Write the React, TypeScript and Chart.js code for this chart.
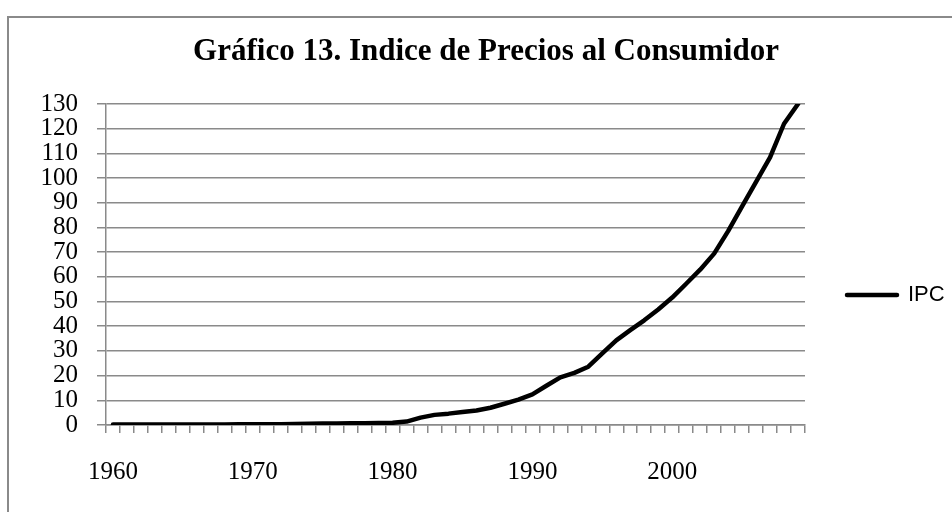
import React, { useEffect, useRef } from 'react';
import { Chart, registerables } from 'chart.js';

Chart.register(...registerables);

const chartTitle = 'Gráfico 13. Indice de Precios al Consumidor';
const seriesName = 'IPC';

const years = [
  '1960', '1961', '1962', '1963', '1964', '1965', '1966', '1967', '1968', '1969',
  '1970', '1971', '1972', '1973', '1974', '1975', '1976', '1977', '1978', '1979',
  '1980', '1981', '1982', '1983', '1984', '1985', '1986', '1987', '1988', '1989',
  '1990', '1991', '1992', '1993', '1994', '1995', '1996', '1997', '1998', '1999',
  '2000', '2001', '2002', '2003', '2004', '2005', '2006', '2007', '2008', '2009',
];

const ipc = [
  0.2, 0.2, 0.2, 0.2, 0.2, 0.2, 0.2, 0.2, 0.2, 0.3,
  0.3, 0.3, 0.3, 0.4, 0.5, 0.6, 0.6, 0.7, 0.7, 0.8,
  0.9, 1.4, 3.0, 4.1, 4.6, 5.3, 5.9, 7.0, 8.6, 10.3,
  12.4, 15.9, 19.3, 21.1, 23.6, 29.0, 34.3, 38.4, 42.4, 46.8,
  51.6, 57.2, 62.9, 69.4, 78.5, 88.5, 98.5, 108.4, 122.0, 130.0,
];

const labeledYears = ['1960', '1970', '1980', '1990', '2000'];

const yMin = 0;
const yMax = 130;
const yStep = 10;

export default function App() {
  const ref = useRef<HTMLCanvasElement>(null);

  useEffect(() => {
    const tickFont = { family: "'Liberation Serif', serif", size: 25 };
    const gridColor = '#8a8a8a';
    const chart = new Chart(ref.current as HTMLCanvasElement, {
      type: 'line',
      data: {
        labels: years,
        datasets: [
          {
            label: seriesName,
            data: ipc,
            borderColor: '#000',
            backgroundColor: '#000',
            borderWidth: 4.5,
            pointRadius: 0,
            pointHoverRadius: 0,
            tension: 0,
            fill: false,
            borderCapStyle: 'round',
            borderJoinStyle: 'round',
          },
        ],
      },
      options: {
        responsive: false,
        animation: false,
        layout: { padding: { left: 20, right: 0, top: 0, bottom: 0 } },
        plugins: {
          title: {
            display: true,
            text: chartTitle,
            color: '#000',
            font: { family: "'Liberation Serif', serif", size: 31, weight: 'bold', lineHeight: 1.2 },
            padding: { top: 33, bottom: 33.8 },
          },
          legend: {
            position: 'right',
            align: 'center',
            maxWidth: 147,
            labels: {
              usePointStyle: true,
              pointStyle: 'line',
              pointStyleWidth: 50,
              padding: 42,
              color: '#000',
              font: { family: "'Liberation Sans', sans-serif", size: 22 },
              generateLabels: (c: any) =>
                Chart.defaults.plugins.legend.labels
                  .generateLabels(c)
                  .map((it: any) => ({ ...it, lineCap: 'round', lineWidth: 4.5, strokeStyle: '#000' })),
            },
          },
          tooltip: { enabled: false },
        },
        scales: {
          x: {
            type: 'category',
            offset: true,
            grid: {
              offset: true,
              drawOnChartArea: false,
              drawTicks: true,
              tickLength: 8,
              color: gridColor,
              lineWidth: 1.5,
            },
            border: { display: true, color: gridColor, width: 1.5 },
            ticks: {
              autoSkip: false,
              maxRotation: 0,
              minRotation: 0,
              padding: 24,
              color: '#000',
              font: tickFont,
              callback: function (_v: any, i: number) {
                const l = years[i];
                return labeledYears.includes(l) ? l : '';
              },
            },
            afterFit: (s: any) => {
              s.height = 165;
            },
          },
          y: {
            min: yMin,
            max: yMax,
            ticks: {
              stepSize: yStep,
              autoSkip: false,
              padding: 19,
              color: '#000',
              font: { ...tickFont, lineHeight: 1 },
            },
            grid: { color: gridColor, lineWidth: 1.5, tickLength: 9, drawTicks: true },
            border: { display: true, color: gridColor, width: 1.5 },
            afterFit: (s: any) => {
              s.width = 86;
            },
          },
        },
      },
    } as any);
    return () => chart.destroy();
  }, []);

  return (
    <div
      style={{
        position: 'fixed',
        left: 0,
        top: 0,
        width: 952,
        height: 512,
        overflow: 'hidden',
        background: '#fff',
      }}
    >
      <canvas
        ref={ref}
        width={952}
        height={590}
        style={{ position: 'absolute', left: 0, top: 0, width: 952, height: 590 }}
      />
      <div
        style={{
          position: 'absolute',
          left: 7,
          top: 16,
          width: 2000,
          height: 2000,
          border: '2px solid #8a8a8a',
          pointerEvents: 'none',
        }}
      />
    </div>
  );
}
